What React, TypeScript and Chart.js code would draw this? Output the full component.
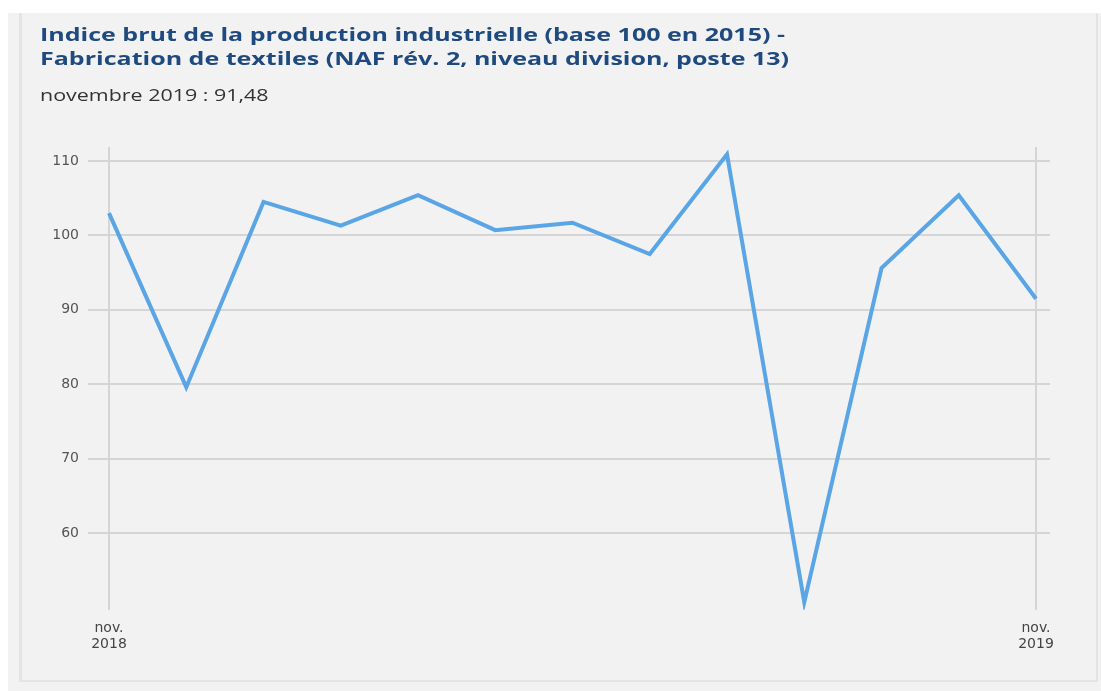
import React, { useEffect, useRef } from "react";
import { Chart, registerables } from "chart.js";

Chart.register(...registerables);

const months: string[][] = [
  ["nov.", "2018"], ["déc.", "2018"], ["janv.", "2019"], ["févr.", "2019"],
  ["mars", "2019"], ["avr.", "2019"], ["mai", "2019"], ["juin", "2019"],
  ["juil.", "2019"], ["août", "2019"], ["sept.", "2019"], ["oct.", "2019"],
  ["nov.", "2019"],
];
const values: number[] = [103.0, 79.6, 104.5, 101.3, 105.4, 100.7, 101.7, 97.5, 110.9, 50.7, 95.6, 105.4, 91.48];
const yTicks: number[] = [60, 70, 80, 90, 100, 110];
const xTickIdx: number[] = [0, 12];

const TITLE_1 = "Indice brut de la production industrielle (base 100 en 2015) -";
const TITLE_2 = "Fabrication de textiles (NAF rév. 2, niveau division, poste 13)";
const SUBTITLE = "novembre 2019 : 91,48";

export default function App() {
  const ref = useRef<HTMLCanvasElement | null>(null);
  useEffect(() => {
    if (!ref.current) return;
    const chart = new Chart(ref.current, {
      type: "line",
      data: {
        datasets: [
          {
            data: values.map((v, i) => ({ x: i, y: v })),
            borderColor: "#5aa5e6",
            borderWidth: 4,
            pointRadius: 0,
            tension: 0,
            borderJoinStyle: "miter",
            fill: false,
          },
        ],
      },
      options: {
        responsive: false,
        animation: false,
        layout: { padding: { left: 0, top: 147, right: 51, bottom: 31 } },
        plugins: { legend: { display: false }, tooltip: { enabled: false }, title: { display: false } },
        scales: {
          x: {
            type: "linear",
            min: -0.272,
            max: 12.181,
            afterBuildTicks: (s: any) => {
              s.ticks = xTickIdx.map((v) => ({ value: v }));
            },
            afterFit: (s: any) => {
              s.height = 50;
            },
            ticks: {
              callback: (v: any) => months[Number(v)] ?? "",
              color: "#444",
              font: { family: "DejaVu Sans", size: 14, lineHeight: 1.1 },
              padding: 11,
              maxRotation: 0,
              autoSkip: false,
            },
            grid: { color: "#d5d5d5", lineWidth: 2, drawTicks: false },
            border: { display: false },
          },
          y: {
            type: "linear",
            min: 49.65,
            max: 111.88,
            afterBuildTicks: (s: any) => {
              s.ticks = yTicks.map((v) => ({ value: v }));
            },
            afterFit: (s: any) => {
              s.width = 88;
            },
            ticks: {
              color: "#555",
              font: { family: "DejaVu Sans", size: 14 },
              padding: 9,
            },
            grid: { color: "#d5d5d5", lineWidth: 2, drawTicks: false },
            border: { display: false },
          },
        },
      },
    } as any);
    return () => chart.destroy();
  }, []);

  return (
    <div>
      <div style={{ position: "absolute", left: 8, top: 13, width: 1093, height: 678, background: "#f2f2f2" }} />
      <div
        style={{
          position: "absolute", left: 19, top: 13, width: 1074, height: 667,
          borderLeft: "3px solid #e4e4e4", borderRight: "2px solid #e4e4e4", borderBottom: "2px solid #e4e4e4",
        }}
      />
      <canvas ref={ref} width={1101} height={691} style={{ position: "absolute", left: 0, top: 0, width: 1101, height: 691 }} />
      <div
        style={{
          position: "absolute", left: 40, top: 22, fontFamily: "'Open Sans', sans-serif", fontWeight: 700,
          fontSize: 18, lineHeight: "24px", color: "#1f4a80", whiteSpace: "nowrap",
          transform: "scaleX(1.39)", transformOrigin: "0 0",
        }}
      >
        <div>{TITLE_1}</div>
        <div>{TITLE_2}</div>
      </div>
      <div
        style={{
          position: "absolute", left: 40, top: 84, fontFamily: "'Open Sans', sans-serif",
          fontSize: 16.5, lineHeight: "22px", color: "#333", whiteSpace: "nowrap",
          transform: "scaleX(1.3)", transformOrigin: "0 0",
        }}
      >
        {SUBTITLE}
      </div>
    </div>
  );
}
